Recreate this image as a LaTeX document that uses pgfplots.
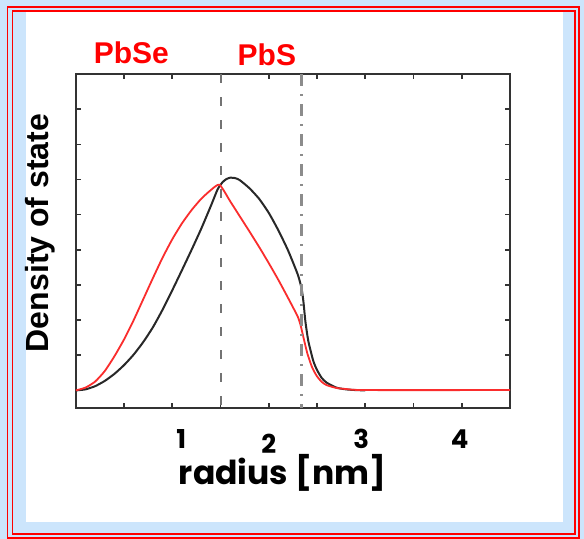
\documentclass[border=0pt]{standalone}
\usepackage{fontspec}
\setmainfont{Liberation Sans}
\newfontfamily\pop{Poppins}
\usepackage{pgfplots}
\pgfplotsset{compat=1.18}
\definecolor{bgblue}{RGB}{204,229,252}
\definecolor{curvered}{RGB}{250,45,45}
\definecolor{curveblack}{RGB}{40,40,40}
\begin{document}
\begin{tikzpicture}
\useasboundingbox (0,0) rectangle (584bp,539bp);
\fill[bgblue] (0,0) rectangle (584bp,539bp);
\fill[white] (26bp,17bp) rectangle (563bp,527bp);
\draw[red, line width=1.6bp] (7.3bp,1.3bp) rectangle (579bp,532bp);
\draw[red, line width=1.6bp] (12.3bp,5bp) rectangle (575bp,528bp);
\begin{axis}[
  at={(75.8bp,131bp)}, anchor=south west,
  scale only axis, width=434.2bp, height=334bp,
  xmin=0, xmax=4.5, ymin=-0.5, ymax=9,
  clip=false,
  axis line style={line width=2.2bp, black!80},
  xtick={0.5,1,1.5,2,2.5,3,3.5,4},
  xticklabels={,{\hspace*{18bp}1},,{\raisebox{-5bp}{2}},,{3\hspace*{8bp}},,{4\hspace*{4bp}}},
  ytick={0,1,2,3,4,5,6,7,8},
  yticklabels={},
  major tick length=5bp,
  tick style={line width=1.6bp, black!80},
  xticklabel style={font=\pop\bfseries\fontsize{26bp}{30bp}\selectfont, anchor=base, yshift=-40.5bp},
  xlabel={radius [nm]},
  xlabel style={font=\pop\bfseries\fontsize{33bp}{38bp}\selectfont, at={(axis description cs:0.476,0)}, anchor=base, yshift=-76bp},
  ylabel={Density of state},
  ylabel style={font=\bfseries\fontsize{32bp}{38bp}\selectfont, at={(axis description cs:-0.0629,0.524)}, anchor=base},
]
\addplot[curveblack, line width=2bp, smooth, tension=0.35] coordinates {
(0,0) (0.1,0.03) (0.2,0.12) (0.3,0.27) (0.4,0.47) (0.5,0.72) (0.6,1.02)
(0.7,1.38) (0.8,1.8) (0.9,2.3) (1.0,2.85) (1.1,3.42) (1.2,4.0) (1.3,4.6)
(1.4,5.25) (1.47,5.72) (1.52,5.92) (1.56,6.01) (1.6,6.05) (1.65,6.04) (1.7,5.98) (1.8,5.75)
(1.9,5.45) (2.0,5.05) (2.1,4.55) (2.2,3.98) (2.3,3.3) (2.34,2.9) (2.36,2.5)
(2.38,1.95) (2.41,1.4) (2.46,0.85) (2.5,0.58) (2.55,0.35) (2.6,0.22)
(2.7,0.08) (2.8,0.03) (2.9,0.01) (3.0,0.0)
};
\addplot[curvered, line width=1.8bp, smooth, tension=0.35] coordinates {
(0,0) (0.1,0.08) (0.2,0.25) (0.3,0.55) (0.4,0.97) (0.5,1.45) (0.6,2.0)
(0.7,2.6) (0.8,3.2) (0.9,3.78) (1.0,4.3) (1.1,4.75) (1.2,5.13) (1.3,5.45)
(1.4,5.7) (1.49,5.85) (1.6,5.38) (1.7,4.95) (1.8,4.52) (1.9,4.08)
(2.0,3.62) (2.1,3.14) (2.2,2.63) (2.3,2.1) (2.33,1.85) (2.36,1.5)
(2.4,1.05) (2.45,0.65) (2.5,0.4) (2.55,0.24) (2.6,0.15) (2.7,0.07)
(2.8,0.04) (3.0,0.01) (4.5,0.01)
};
\addplot[black!55, line width=2bp, dash pattern=on 9bp off 14bp] coordinates {(1.5,9) (1.5,-0.5)};
\addplot[black!45, line width=3bp, dash pattern=on 12bp off 8bp on 2bp off 8bp] coordinates {(2.34,9) (2.34,-0.5)};
\node[anchor=base, text=red, font=\bfseries\fontsize{30bp}{36bp}\selectfont] at (axis cs:0.575,9.29) {PbSe};
\node[anchor=base, text=red, font=\bfseries\fontsize{30bp}{36bp}\selectfont] at (axis cs:1.98,9.24) {PbS};
\end{axis}
\end{tikzpicture}
\end{document}
